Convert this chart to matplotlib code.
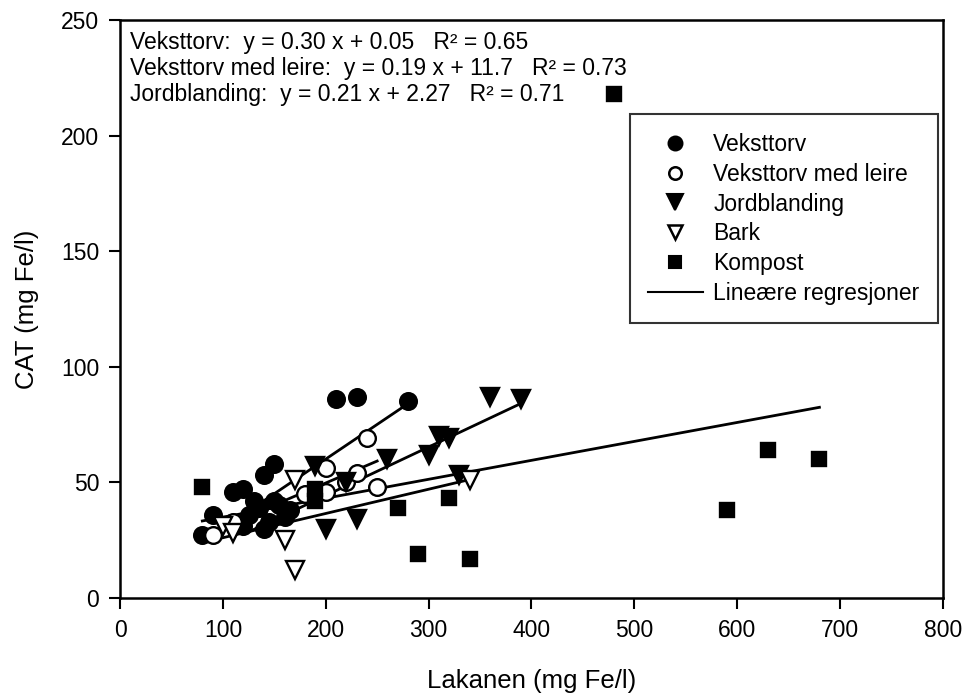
import numpy as np
import matplotlib as mpl
mpl.use("Agg")
import matplotlib.pyplot as plt
from matplotlib.lines import Line2D

plt.rcParams['font.family'] = ['Liberation Sans', 'DejaVu Sans']

### Data

vekst_x = [80, 90, 110, 120, 120, 125, 130, 135, 140, 140, 145, 150, 150, 155, 160, 165, 210, 230, 280]
vekst_y = [27, 36, 46, 47, 31, 36, 42, 39, 30, 53, 33, 58, 42, 40, 35, 38, 86, 87, 85]

leire_x = [90, 110, 180, 200, 200, 220, 230, 240, 250]
leire_y = [27, 33, 45, 56, 46, 50, 54, 69, 48]

jord_x = [190, 200, 220, 230, 260, 300, 310, 320, 330, 360, 390]
jord_y = [57, 30, 50, 34, 60, 62, 70, 69, 53, 87, 86]

bark_x = [100, 110, 160, 170, 170, 340]
bark_y = [31, 28, 25, 12, 51, 51]

kompost_x = [80, 190, 190, 270, 290, 320, 340, 480, 590, 630, 680]
kompost_y = [48, 47, 42, 39, 19, 43, 17, 218, 38, 64, 60]

# regression lines: slope, intercept, x start, x end
reg_slope = [0.30, 0.19, 0.21, 0.105, 0.082]
reg_icept = [0.05, 11.7, 2.27, 15.5, 26.7]
reg_xmin = [90, 90, 120, 90, 80]
reg_xmax = [280, 250, 390, 340, 680]

series_names = ["Veksttorv", "Veksttorv med leire", "Jordblanding", "Bark", "Kompost"]
equations = ["Veksttorv:  y = 0.30 x + 0.05   R² = 0.65",
             "Veksttorv med leire:  y = 0.19 x + 11.7   R² = 0.73",
             "Jordblanding:  y = 0.21 x + 2.27   R² = 0.71"]

### Draw diagram

fig = plt.figure(figsize=(9.68, 7.0), dpi=100)
ax = fig.add_axes([0.124, 0.146, 0.850, 0.825])

for a, b, x0, x1 in zip(reg_slope, reg_icept, reg_xmin, reg_xmax):
    xs = np.array([x0, x1])
    ax.plot(xs, a * xs + b, color="black", lw=2.0, zorder=2)

ms = 12
mew = 1.7
ax.plot(vekst_x, vekst_y, "o", ms=ms, mfc="black", mec="black", mew=mew, zorder=3)
ax.plot(leire_x, leire_y, "o", ms=ms, mfc="white", mec="black", mew=mew, zorder=3)
ax.plot(jord_x, jord_y, "v", ms=ms + 1, mfc="black", mec="black", mew=mew, zorder=3)
ax.plot(bark_x, bark_y, "v", ms=ms + 1, mfc="white", mec="black", mew=mew, zorder=3)
ax.plot(kompost_x, kompost_y, "s", ms=ms - 1.5, mfc="black", mec="black", mew=mew, zorder=3)

ax.set_xlim(0, 800)
ax.set_ylim(0, 250)
ax.set_xticks(np.arange(0, 801, 100))
ax.set_yticks(np.arange(0, 251, 50))
ax.tick_params(direction="out", length=8, width=1.5, labelsize=16.5, pad=7)
for spine in ax.spines.values():
    spine.set_linewidth(1.8)

ax.set_xlabel("Lakanen (mg Fe/l)", fontsize=18.5, labelpad=20)
ax.set_ylabel("CAT (mg Fe/l)", fontsize=18.5, labelpad=16)

for i, txt in enumerate(equations):
    ax.text(0.012, 0.961 - i * 0.045, txt, transform=ax.transAxes, fontsize=16.5,
            va="center", ha="left")

handles = [
    Line2D([], [], ls="", marker="o", ms=10, mfc="black", mec="black", mew=1.5),
    Line2D([], [], ls="", marker="o", ms=9, mfc="white", mec="black", mew=1.8),
    Line2D([], [], ls="", marker="v", ms=11, mfc="black", mec="black", mew=1.5),
    Line2D([], [], ls="", marker="v", ms=10, mfc="white", mec="black", mew=1.8),
    Line2D([], [], ls="", marker="s", ms=9, mfc="black", mec="black", mew=1.5),
    Line2D([], [], color="black", lw=1.5),
]
labels = series_names + ["Lineære regresjoner"]
leg = ax.legend(handles, labels, loc="upper right", bbox_to_anchor=(0.994, 0.837),
                borderaxespad=0, fontsize=16.5, frameon=True, fancybox=False,
                edgecolor="black", handlelength=2.4, handletextpad=0.45,
                labelspacing=0.3, borderpad=0.8)
leg.get_frame().set_linewidth(1.5)

fig.savefig("out.png", dpi=100)
